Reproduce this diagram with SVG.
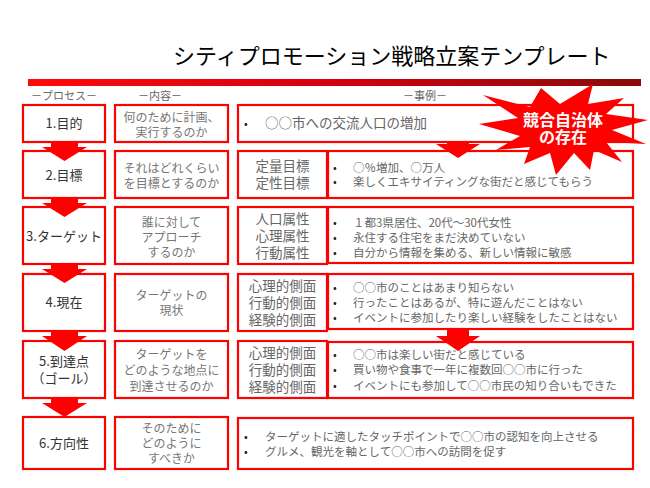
<svg xmlns="http://www.w3.org/2000/svg" width="650" height="488" viewBox="0 0 650 488">
<defs>
<linearGradient id="bar" x1="0" y1="0" x2="1" y2="0">
<stop offset="0" stop-color="#ff0a0a"/>
<stop offset="0.5" stop-color="#d40010"/>
<stop offset="1" stop-color="#8a0a0a"/>
</linearGradient>
<style>
text{font-family:"Noto Sans CJK JP","Noto Sans",sans-serif}
.box{fill:#fff;stroke:#ff0000;stroke-width:2.2}
.arrow{fill:#ff0000}
.title{font-size:22px;fill:#000}
.hdr{font-size:11px;fill:#666;text-anchor:middle}
.proc{font-size:13px;fill:#333;text-anchor:middle}
.cont{font-size:12px;fill:#777;text-anchor:middle}
.lab{font-size:13.5px;fill:#666;text-anchor:middle}
.ex{font-size:11.5px;fill:#666}
.ex1{font-size:13.5px;fill:#666}
.bul{font-size:11px;fill:#222}
.star{font-size:16px;font-weight:bold;fill:#fff;text-anchor:middle}
</style>
</defs>
<rect width="650" height="488" fill="#fff"/>
<text class="title" x="173" y="64">シティプロモーション戦略立案テンプレート</text>
<rect x="28" y="79" width="613" height="7" fill="url(#bar)"/>
<text class="hdr" x="64" y="100">－プロセス－</text>
<text class="hdr" x="160" y="100">－内容－</text>
<text class="hdr" x="425" y="100">－事例－</text>

<g id="proc1"><rect class="box" x="23" y="105" width="82" height="37"/><text class="proc" x="64" y="128">1.目的</text></g>
<g id="proc2"><rect class="box" x="23" y="151" width="82" height="47"/><text class="proc" x="64" y="180">2.目標</text></g>
<g id="proc3"><rect class="box" x="23" y="207" width="82" height="57"/><text class="proc" x="64" y="241">3.ターゲット</text></g>
<g id="proc4"><rect class="box" x="23" y="274" width="82" height="57"/><text class="proc" x="64" y="307">4.現在</text></g>
<g id="proc5"><rect class="box" x="23" y="341" width="82" height="57"/><text class="proc" x="64" y="366">5.到達点</text><text class="proc" x="64" y="383">（ゴール）</text></g>
<g id="proc6"><rect class="box" x="23" y="417" width="82" height="52"/><text class="proc" x="64" y="448">6.方向性</text></g>

<g id="cont1"><rect class="box" x="115" y="105" width="113" height="37"/><text class="cont" x="171.5" y="121.5">何のために計画、</text><text class="cont" x="171.5" y="136.5">実行するのか</text></g>
<g id="cont2"><rect class="box" x="115" y="151" width="113" height="47"/><text class="cont" x="171.5" y="172.5">それはどれくらい</text><text class="cont" x="171.5" y="187.5">を目標とするのか</text></g>
<g id="cont3"><rect class="box" x="115" y="207" width="113" height="57"/><text class="cont" x="171.5" y="226.5">誰に対して</text><text class="cont" x="171.5" y="241.5">アプローチ</text><text class="cont" x="171.5" y="256.5">するのか</text></g>
<g id="cont4"><rect class="box" x="115" y="274" width="113" height="57"/><text class="cont" x="171.5" y="299.5">ターゲットの</text><text class="cont" x="171.5" y="314.5">現状</text></g>
<g id="cont5"><rect class="box" x="115" y="341" width="113" height="57"/><text class="cont" x="171.5" y="358.5">ターゲットを</text><text class="cont" x="171.5" y="374.5">どのような地点に</text><text class="cont" x="171.5" y="390.5">到達させるのか</text></g>
<g id="cont6"><rect class="box" x="115" y="417" width="113" height="52"/><text class="cont" x="171.5" y="432.5">そのために</text><text class="cont" x="171.5" y="447.5">どのように</text><text class="cont" x="171.5" y="462.5">すべきか</text></g>

<g id="ex1"><rect class="box" x="238" y="105" width="395" height="37"/><text class="bul" x="244" y="128">•</text><text class="ex1" x="265" y="128">○○市への交流人口の増加</text></g>

<g id="lab2"><rect class="box" x="238" y="151" width="89" height="47"/><text class="lab" x="282.5" y="171">定量目標</text><text class="lab" x="282.5" y="188">定性目標</text></g>
<g id="ex2"><rect class="box" x="328" y="151" width="305" height="47"/><text class="bul" x="333" y="171.5">•</text><text class="ex" x="353" y="171.5">○％増加、○万人</text><text class="bul" x="333" y="185.5">•</text><text class="ex" x="353" y="185.5">楽しくエキサイティングな街だと感じてもらう</text></g>

<g id="lab3"><rect class="box" x="238" y="207" width="89" height="57"/><text class="lab" x="282.5" y="224">人口属性</text><text class="lab" x="282.5" y="241">心理属性</text><text class="lab" x="282.5" y="258">行動属性</text></g>
<g id="ex3"><rect class="box" x="328" y="207" width="305" height="56"/><text class="bul" x="333" y="226.5">•</text><text class="ex" x="353" y="226.5">１都3県居住、20代～30代女性</text><text class="bul" x="333" y="241.5">•</text><text class="ex" x="353" y="241.5">永住する住宅をまだ決めていない</text><text class="bul" x="333" y="256.5">•</text><text class="ex" x="353" y="256.5">自分から情報を集める、新しい情報に敏感</text></g>

<g id="lab4"><rect class="box" x="238" y="274" width="89" height="57"/><text class="lab" x="282.5" y="291">心理的側面</text><text class="lab" x="282.5" y="308">行動的側面</text><text class="lab" x="282.5" y="325">経験的側面</text></g>
<g id="ex4"><rect class="box" x="328" y="274" width="305" height="55"/><text class="bul" x="333" y="291.5">•</text><text class="ex" x="353" y="291.5">○○市のことはあまり知らない</text><text class="bul" x="333" y="306.5">•</text><text class="ex" x="353" y="306.5">行ったことはあるが、特に遊んだことはない</text><text class="bul" x="333" y="321.5">•</text><text class="ex" x="353" y="321.5">イベントに参加したり楽しい経験をしたことはない</text></g>

<g id="lab5"><rect class="box" x="238" y="341" width="89" height="57"/><text class="lab" x="282.5" y="358">心理的側面</text><text class="lab" x="282.5" y="375">行動的側面</text><text class="lab" x="282.5" y="392">経験的側面</text></g>
<g id="ex5"><rect class="box" x="328" y="342" width="305" height="56"/><text class="bul" x="333" y="358.5">•</text><text class="ex" x="353" y="358.5">○○市は楽しい街だと感じている</text><text class="bul" x="333" y="374">•</text><text class="ex" x="353" y="374">買い物や食事で一年に複数回○○市に行った</text><text class="bul" x="333" y="389.5">•</text><text class="ex" x="353" y="389.5">イベントにも参加して○○市民の知り合いもできた</text></g>

<g id="ex6"><rect class="box" x="238" y="418" width="395" height="51"/><text class="bul" x="244" y="441">•</text><text class="ex" x="265" y="441">ターゲットに適したタッチポイントで○○市の認知を向上させる</text><text class="bul" x="244" y="456">•</text><text class="ex" x="265" y="456">グルメ、観光を軸として○○市への訪問を促す</text></g>

<g id="connectors">
<path class="arrow" d="M51,141 H78 V147 H87 L64.5,161 L42,147 H51 Z"/>
<path class="arrow" d="M51,197 H78 V203 H87 L64.5,217 L42,203 H51 Z"/>
<path class="arrow" d="M51,263 H78 V269 H87 L64.5,283 L42,269 H51 Z"/>
<path class="arrow" d="M51,330 H78 V336 H87 L64.5,351 L42,336 H51 Z"/>
<path class="arrow" d="M51,397 H78 V403 H87 L64.5,417 L42,403 H51 Z"/>
<path class="arrow" d="M447,141 H469 V144 H480 L458,158 L436,144 H447 Z"/>
<path class="arrow" d="M447,329 H469 V336 H480 L458,351 L436,336 H447 Z"/>
</g>

<g id="burst">
<path fill="#ff0000" d="M593,84 L588,104 L624,98 L606,114 L648,120 L612,130 L646,144 L606,142 L622,162 L594,150 L590,170 L574,153 L556,175 L550,153 L524,164 L530,147 L496,150 L520,136 L479,124 L518,118 L483,95 L530,107 L541,88 L560,104 Z"/>
<text class="star" x="563" y="126">競合自治体</text>
<text class="star" x="563" y="143">の存在</text>
</g>
</svg>
